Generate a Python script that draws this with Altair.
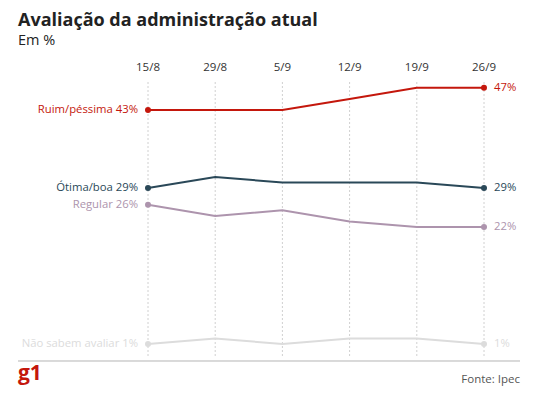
import altair as alt
import pandas as pd

dates = ["15/8", "29/8", "5/9", "12/9", "19/9", "26/9"]
series = ["Ruim/péssima", "Ótima/boa", "Regular", "Não sabem avaliar"]
ruim = [43, 43, 43, 45, 47, 47]
otima = [29, 31, 30, 30, 30, 29]
regular = [26, 24, 25, 23, 22, 22]
nao_sabem = [1, 2, 1, 2, 2, 1]
colors = ["#c4170c", "#2a4858", "#ad94ad", "#dcdcdc"]

title = "Avaliação da administração atual"
subtitle = "Em %"
source = "Fonte: Ipec"
logo = "g1"

rows = []
for name, vals in zip(series, [ruim, otima, regular, nao_sabem]):
    for i, (d, v) in enumerate(zip(dates, vals)):
        rows.append({"date": d, "series": name, "value": v, "idx": i})
df = pd.DataFrame(rows)
first = df[df["idx"] == 0].copy()
first["label"] = first["series"] + " " + first["value"].astype(str) + "%"
last = df[df["idx"] == len(dates) - 1].copy()
last["label"] = last["value"].astype(str) + "%"
dates_df = pd.DataFrame({"date": dates})

FONT = "Open Sans"
xs = alt.X("date:N", sort=dates, axis=None,
           scale=alt.Scale(type="point", domain=dates, range=[140, 476], padding=0))
ys = alt.Y("value:Q", axis=None,
           scale=alt.Scale(domain=[0, 50], range=[341.6, 63.1]))
col = alt.Color("series:N", legend=None,
                scale=alt.Scale(domain=series, range=colors))

grid = alt.Chart(dates_df).mark_rule(color="#d0d0d0", strokeDash=[2, 2], strokeWidth=1).encode(
    x=xs, y=alt.value(74), y2=alt.value(348))
date_labels = alt.Chart(dates_df).mark_text(font=FONT, fontSize=11.5, color="#333333", baseline="alphabetic").encode(
    x=xs, y=alt.value(63), text="date:N")
lines = alt.Chart(df).mark_line(strokeWidth=2).encode(x=xs, y=ys, color=col)
pts = alt.Chart(pd.concat([first, last])).mark_circle(size=36, opacity=1).encode(x=xs, y=ys, color=col)
left = alt.Chart(first).mark_text(font=FONT, fontSize=11.3, align="right", baseline="middle", dx=-10).encode(
    x=xs, y=ys, color=col, text="label:N")
right = alt.Chart(last).mark_text(font=FONT, fontSize=11.3, align="left", baseline="middle", dx=10).encode(
    x=xs, y=ys, color=col, text="label:N")
bottom = alt.Chart(dates_df).mark_rule(color="#d9d9d9", strokeWidth=1).encode(
    x=alt.value(10), x2=alt.value(512), y=alt.value(353))

def txt(s, x, y, size, weight="normal", color="#333333", align="left"):
    return alt.Chart(pd.DataFrame({"t": [s]})).mark_text(
        font=FONT, fontSize=size, fontWeight=weight, color=color, align=align, baseline="alphabetic"
    ).encode(x=alt.value(x), y=alt.value(y), text="t:N")

chart = alt.layer(
    grid, date_labels, bottom, lines, pts, left, right,
    txt(title, 10, 18, 18, "bold", "#222222"),
    txt(subtitle, 10, 37, 14.5, "normal", "#222222"),
    txt(logo, 10, 372, 21, "bold", "#c4170c"),
    txt(source, 512, 375, 11.5, "normal", "#555555", "right"),
).properties(width=522, height=379, autosize="none", padding=0
).configure_view(stroke=None)

chart.save("out.html", embed_options={"renderer": "svg", "actions": False})
